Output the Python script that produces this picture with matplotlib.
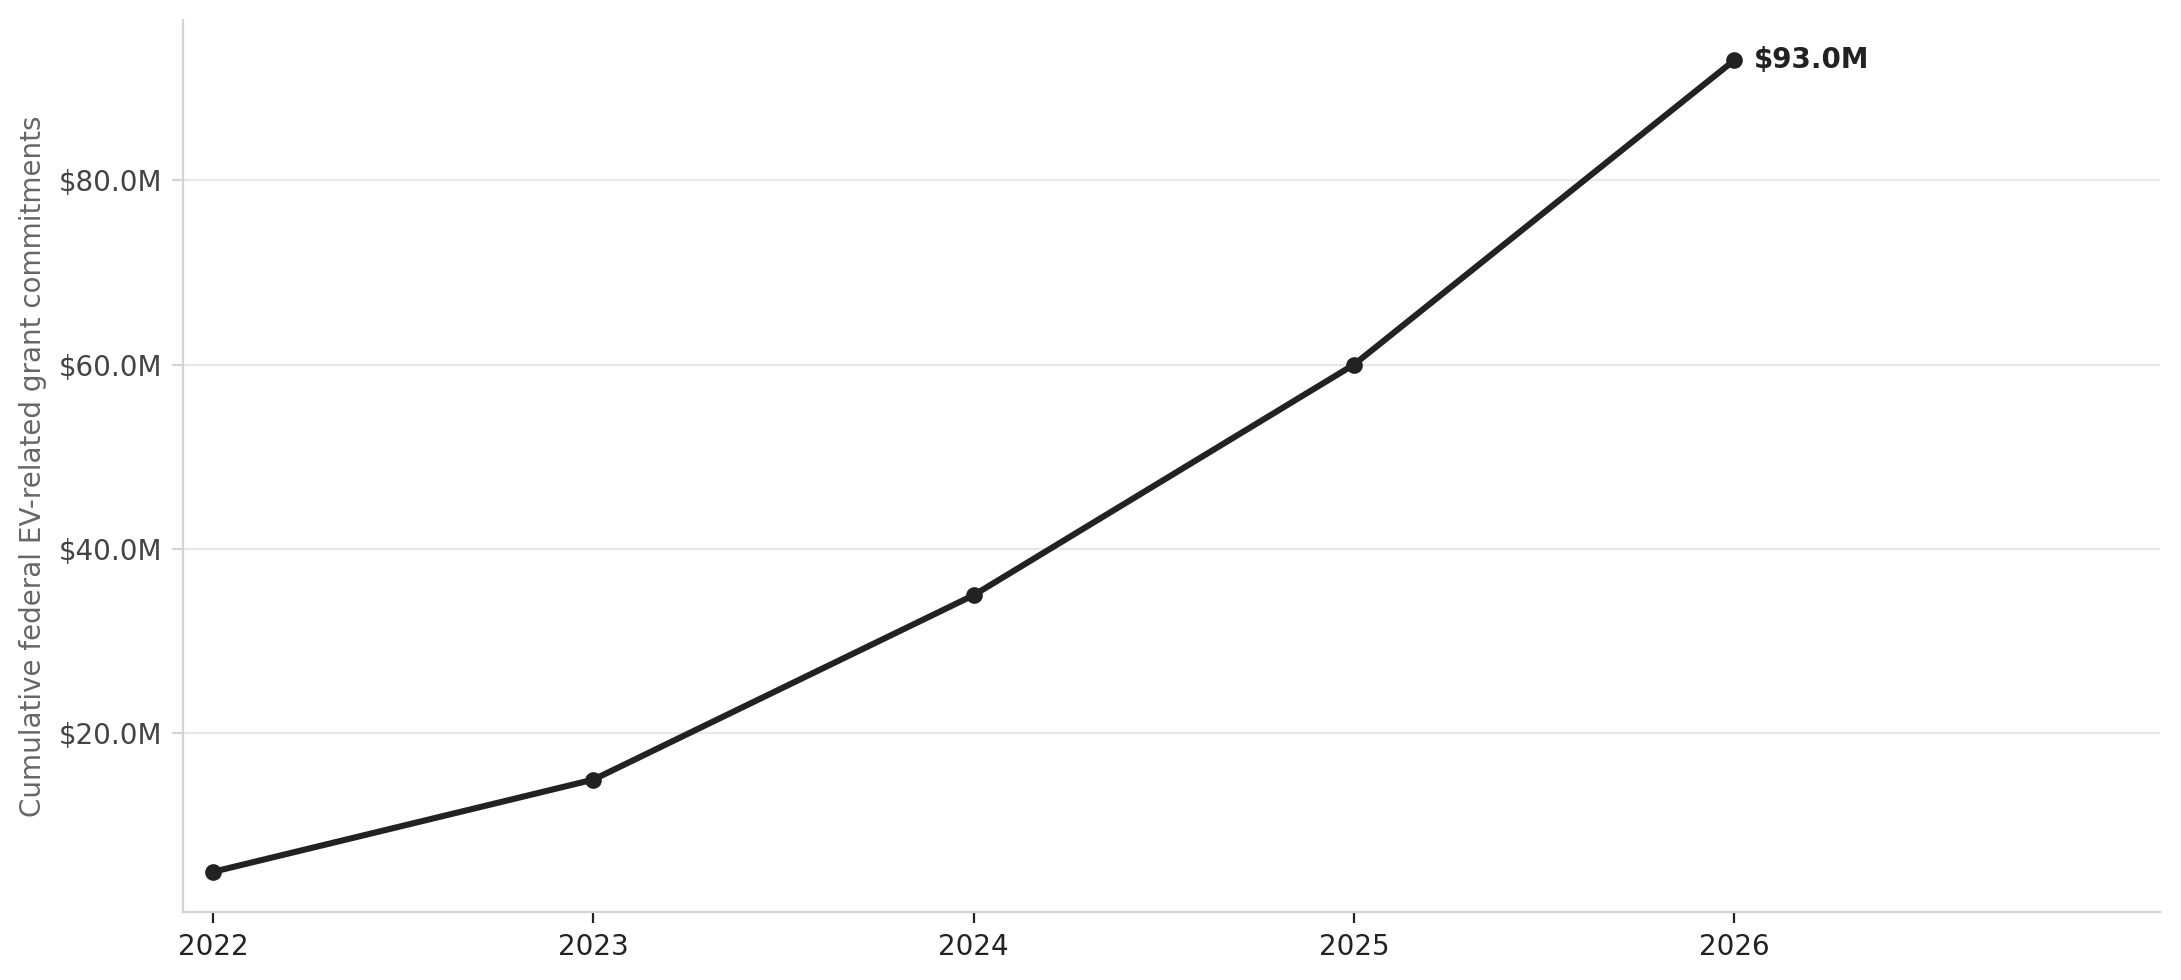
import matplotlib.pyplot as plt
from matplotlib.ticker import FuncFormatter

years = [2022, 2023, 2024, 2025, 2026]
grants_musd = [5.0, 15.0, 35.0, 60.0, 93.0]

fig, ax = plt.subplots(figsize=(10.905, 4.9), dpi=200)

ax.plot(years, grants_musd, color="#222222", linewidth=2.2, marker="o", markersize=5, zorder=3)

# label the last point
ax.annotate(f"${grants_musd[-1]:.1f}M", xy=(years[-1], grants_musd[-1]),
            xytext=(7, 0), textcoords="offset points", va="center", ha="left",
            fontsize=10, fontweight="bold", color="#222222")

ax.set_xticks(years)
ax.set_xlim(2021.92, 2027.12)
ax.set_yticks([20, 40, 60, 80])
ax.yaxis.set_major_formatter(FuncFormatter(lambda v, p: f"${v:.1f}M"))
ax.set_ylabel("Cumulative federal EV-related grant commitments", fontsize=10, color="#666666")

ax.grid(axis="y", color="#e8e8e8", linewidth=0.8)
ax.set_axisbelow(True)
for s in ["top", "right"]:
    ax.spines[s].set_visible(False)
for s in ["left", "bottom"]:
    ax.spines[s].set_color("#d4d4d4")
    ax.spines[s].set_linewidth(0.8)
ax.tick_params(axis="x", colors="#222222", labelsize=10, length=4)
ax.tick_params(axis="y", colors="#d4d4d4", labelcolor="#444444", labelsize=10, length=4)

fig.subplots_adjust(left=0.0838, right=0.9905, top=0.98, bottom=0.069)
fig.savefig("out.png")
